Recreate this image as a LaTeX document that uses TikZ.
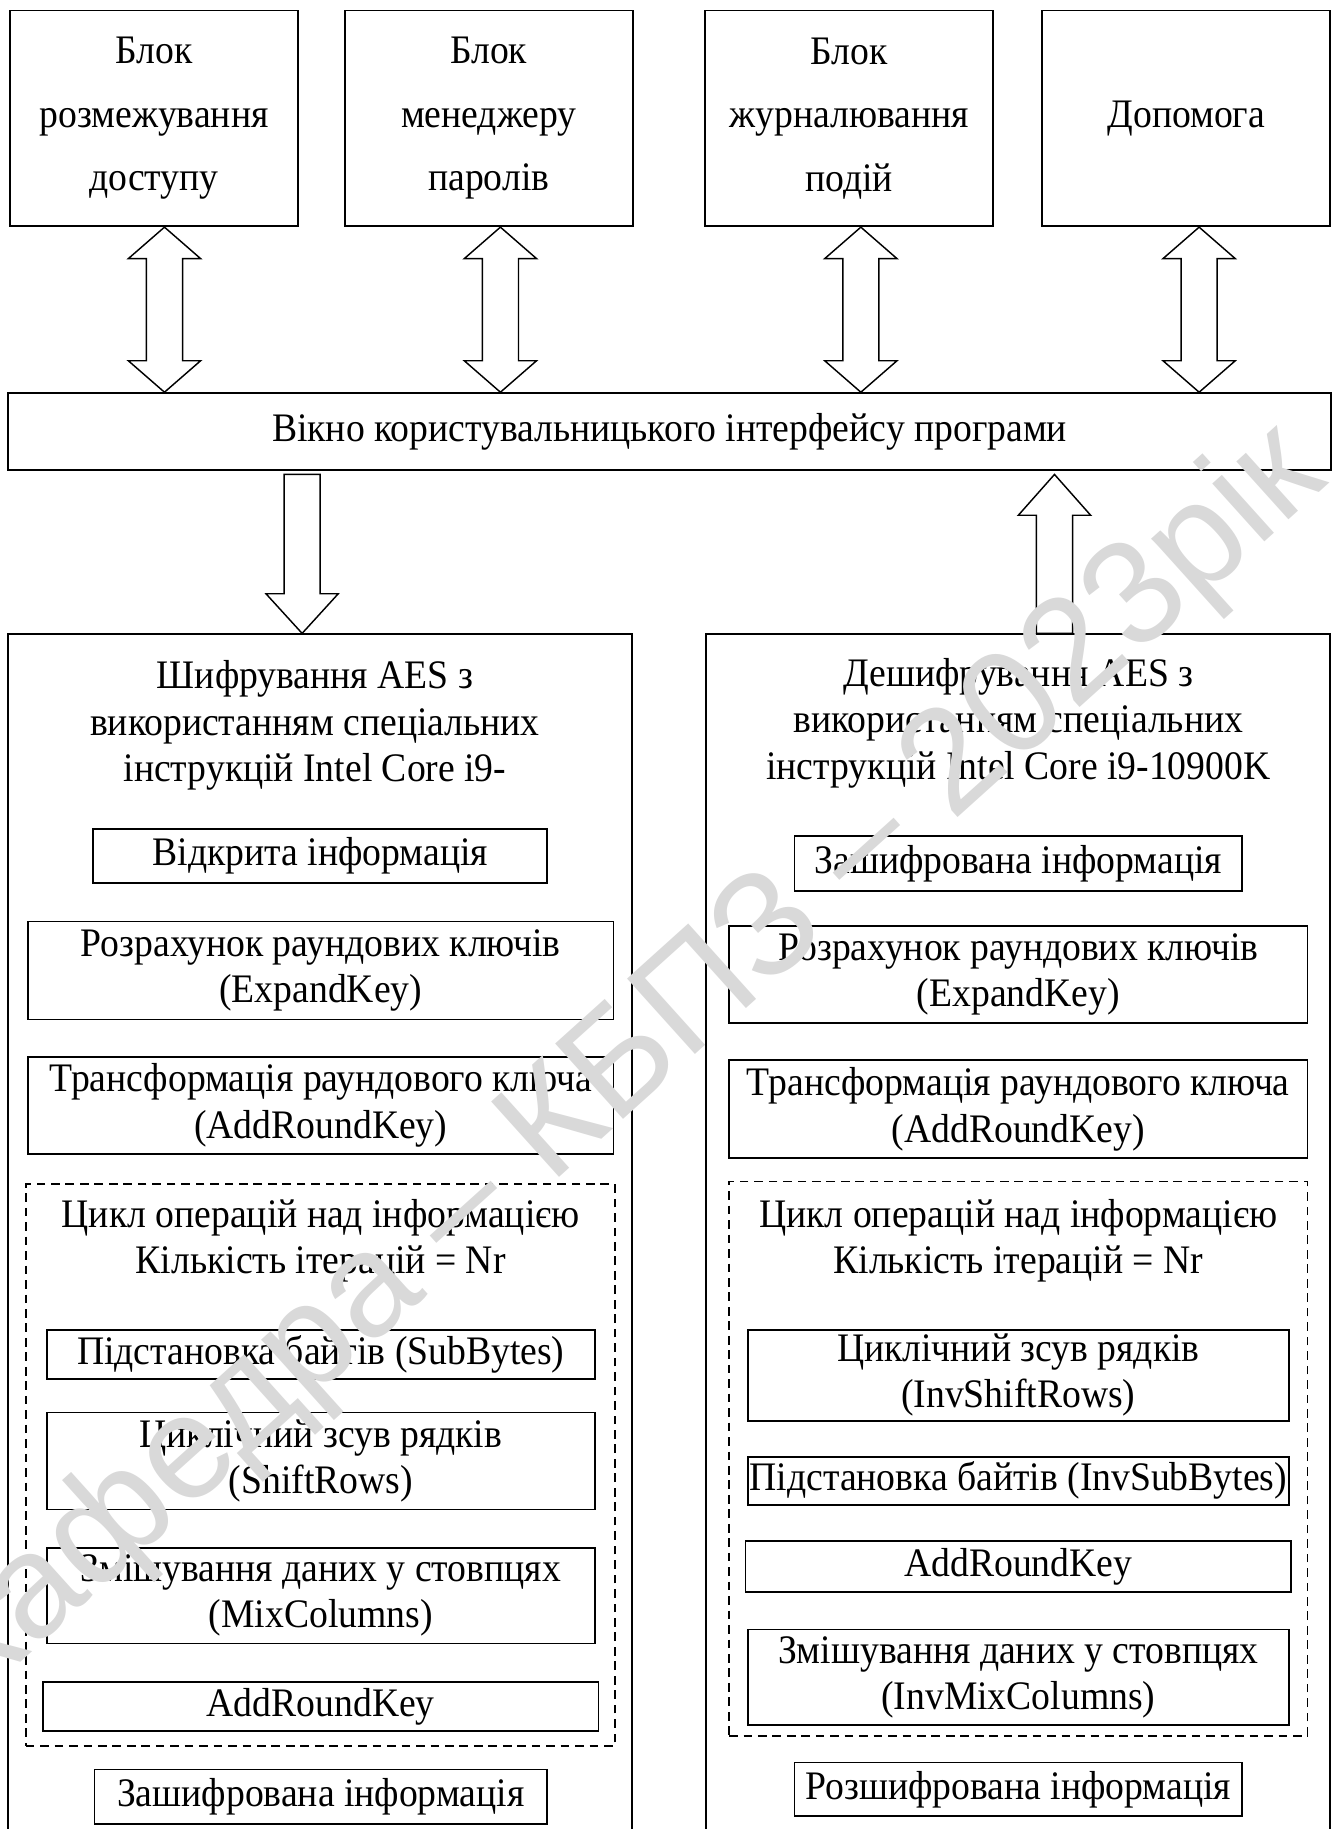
\documentclass[tikz,border=0pt]{standalone}
\usepackage{fontspec}
\setmainfont[FakeStretch=0.93]{Liberation Serif}
\newfontfamily\markfont{Liberation Sans}
\usetikzlibrary{calc}

\newcommand{\unitpx}{0.01418cm}
% hollow block arrows
\newcommand{\twoway}[2]{%
    \draw [arr] (#1) -- ++(31,27) -- ++(-15.5,0) -- ($(#2)+(15.5,-27)$) -- ++(15.5,0) -- (#2)
        -- ++(-31,-27) -- ++(15.5,0) -- ($(#1)+(-15.5,27)$) -- ++(-15.5,0) -- cycle;}
\newcommand{\arrdown}[2]{%
    \draw [arr] ($(#1)+(-15.5,3)$) -- ($(#1)+(15.5,3)$) -- ($(#2)+(15.5,-34)$) -- ++(15.5,0) -- (#2)
        -- ++(-31,-34) -- ++(15.5,0) -- cycle;}
\newcommand{\arrup}[2]{%
    \draw [arr] ($(#1)+(0,3)$) -- ++(31,35) -- ++(-15.5,0) -- ($(#2)+(15.5,0)$) -- ($(#2)+(-15.5,0)$)
        -- ($(#1)+(-15.5,38)$) -- ++(-15.5,0) -- cycle;}

\begin{document}
\begin{tikzpicture}[x=0.01418cm, y=-0.01418cm,
    blk/.style={draw, line width=0.6pt, align=center, inner sep=0pt, font=\fontsize{14}{16}\selectfont},
    topblk/.style={blk, font=\fontsize{14}{22}\selectfont, minimum width=247*\unitpx, minimum height=185*\unitpx},
    bigblk/.style={blk, anchor=north, minimum width=535*\unitpx, minimum height=1200*\unitpx},
    loopblk/.style={blk, dash pattern=on 3pt off 2pt},
    txt/.style={align=center, inner sep=0pt, font=\fontsize{14}{16}\selectfont},
    arr/.style={line width=0.5pt, fill=white},
    wm/.style={text=black!15, inner sep=0pt, font=\markfont\fontsize{51}{60}\selectfont}]
    \useasboundingbox (0,0) rectangle (1145,1568);
    \clip (0,0) rectangle (1145,1568);

    \node [topblk] (t1) at (132,101.5) {Блок\\розмежування\\доступу};
    \node [topblk] (t2) at (419,101.5) {Блок\\менеджеру\\паролів};
    \node [topblk] (t3) at (728,101.5) {Блок\\журналювання\\подій};
    \node [topblk] (t4) at (1017,101.5) {Допомога};
    \node [blk, minimum width=1134*\unitpx, minimum height=66*\unitpx] (bar) at (574,370) {Вікно користувальницького інтерфейсу програми};

    \node [bigblk] (enc) at (274.5,543) {};
    \node [bigblk] (dec) at (872.5,543) {};
    \node [txt] (encT) at (270,622) {Шифрування AES з\\використанням спеціальних\\інструкцій Intel Core i9-};
    \node [txt] (decT) at (873,620) {Дешифрування AES з\\використанням спеціальних\\інструкцій Intel Core i9-10900K};

    % encryption
    \node [blk, minimum width=389*\unitpx, minimum height=46*\unitpx] (e0) at (274.5,734) {Відкрита інформація};
    \node [blk, minimum width=502*\unitpx, minimum height=84*\unitpx] (e1) at (275,832) {Розрахунок раундових ключів\\(ExpandKey)};
    \node [blk, minimum width=502*\unitpx, minimum height=83*\unitpx] (e2) at (275,947.5) {Трансформація раундового ключа\\(AddRoundKey)};
    \node [loopblk, minimum width=505*\unitpx, minimum height=482*\unitpx] (eloop) at (274.5,1256) {};
    \node [txt] (eloopT) at (275,1063.5) {Цикл операцій над інформацією\\Кількість ітерацій = Nr};
    \node [blk, minimum width=470*\unitpx, minimum height=42*\unitpx] (e3) at (275,1161) {Підстановка байтів (SubBytes)};
    \node [blk, minimum width=470*\unitpx, minimum height=83*\unitpx] (e4) at (275,1252.5) {Циклічний зсув рядків\\(ShiftRows)};
    \node [blk, minimum width=470*\unitpx, minimum height=82*\unitpx] (e5) at (275,1368) {Змішування даних у стовпцях\\(MixColumns)};
    \node [blk, minimum width=476*\unitpx, minimum height=42*\unitpx] (e6) at (275,1463) {AddRoundKey};
    \node [blk, minimum width=388*\unitpx, minimum height=47*\unitpx] (e7) at (275,1540.5) {Зашифрована інформація};

    % decryption
    \node [blk, minimum width=384*\unitpx, minimum height=47*\unitpx] (d0) at (873,740.5) {Зашифрована інформація};
    \node [blk, minimum width=496*\unitpx, minimum height=83*\unitpx] (d1) at (873,835.5) {Розрахунок раундових ключів\\(ExpandKey)};
    \node [blk, minimum width=496*\unitpx, minimum height=84*\unitpx] (d2) at (873,951) {Трансформація раундового ключа\\(AddRoundKey)};
    \node [loopblk, minimum width=496*\unitpx, minimum height=475*\unitpx] (dloop) at (873,1250.5) {};
    \node [txt] (dloopT) at (873,1064) {Цикл операцій над інформацією\\Кількість ітерацій = Nr};
    \node [blk, minimum width=464*\unitpx, minimum height=78*\unitpx] (d3) at (873,1179) {Циклічний зсув рядків\\(InvShiftRows)};
    \node [blk, minimum width=464*\unitpx, minimum height=41*\unitpx] (d4) at (873,1269.5) {Підстановка байтів (InvSubBytes)};
    \node [blk, minimum width=468*\unitpx, minimum height=44*\unitpx] (d5) at (873,1343) {AddRoundKey};
    \node [blk, minimum width=464*\unitpx, minimum height=82*\unitpx] (d6) at (873,1438) {Змішування даних у стовпцях\\(InvMixColumns)};
    \node [blk, minimum width=384*\unitpx, minimum height=46*\unitpx] (d7) at (873,1534) {Розшифрована інформація};

    \coordinate (a1) at (141,0);
    \coordinate (a2) at (429,0);
    \coordinate (a3) at (738,0);
    \coordinate (a4) at (1028,0);
    \coordinate (dn) at (259,0);
    \coordinate (up) at (904,0);
    \twoway{t1.south -| a1}{bar.north -| a1}
    \twoway{t2.south -| a2}{bar.north -| a2}
    \twoway{t3.south -| a3}{bar.north -| a3}
    \twoway{t4.south -| a4}{bar.north -| a4}
    \arrdown{bar.south -| dn}{enc.north -| dn}
    \arrup{bar.south -| up}{dec.north -| up}

    \node [wm, rotate=42] (mark) at (535,915) {Кафедра – КБПЗ – 2023рік};
\end{tikzpicture}
\end{document}
